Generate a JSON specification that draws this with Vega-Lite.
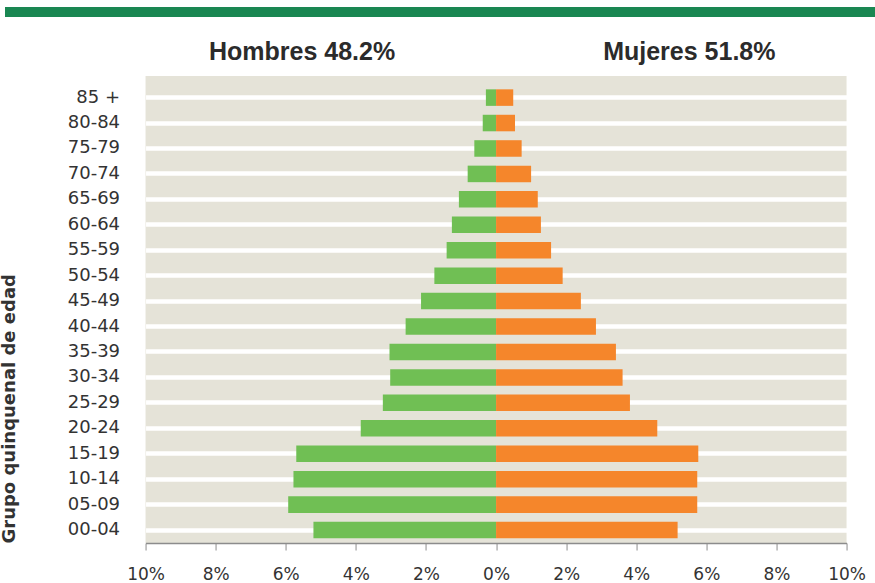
{
  "$schema": "https://vega.github.io/schema/vega-lite/v6.json",
  "padding": {"left": 0, "right": 0, "top": 7, "bottom": 0},
  "background": "#ffffff",
  "spacing": 22,
  "center": true,
  "config": {"view": {"stroke": null}},
  "datasets": {
    "pyramid": [
      {"age": "85 +", "sex": "Hombres", "value": -0.29},
      {"age": "80-84", "sex": "Hombres", "value": -0.38},
      {"age": "75-79", "sex": "Hombres", "value": -0.62},
      {"age": "70-74", "sex": "Hombres", "value": -0.81},
      {"age": "65-69", "sex": "Hombres", "value": -1.06},
      {"age": "60-64", "sex": "Hombres", "value": -1.26},
      {"age": "55-59", "sex": "Hombres", "value": -1.41},
      {"age": "50-54", "sex": "Hombres", "value": -1.76},
      {"age": "45-49", "sex": "Hombres", "value": -2.14},
      {"age": "40-44", "sex": "Hombres", "value": -2.58},
      {"age": "35-39", "sex": "Hombres", "value": -3.04},
      {"age": "30-34", "sex": "Hombres", "value": -3.02},
      {"age": "25-29", "sex": "Hombres", "value": -3.23},
      {"age": "20-24", "sex": "Hombres", "value": -3.86},
      {"age": "15-19", "sex": "Hombres", "value": -5.70},
      {"age": "10-14", "sex": "Hombres", "value": -5.78},
      {"age": "05-09", "sex": "Hombres", "value": -5.93},
      {"age": "00-04", "sex": "Hombres", "value": -5.21},
      {"age": "85 +", "sex": "Mujeres", "value": 0.49},
      {"age": "80-84", "sex": "Mujeres", "value": 0.54},
      {"age": "75-79", "sex": "Mujeres", "value": 0.73},
      {"age": "70-74", "sex": "Mujeres", "value": 1.0},
      {"age": "65-69", "sex": "Mujeres", "value": 1.19},
      {"age": "60-64", "sex": "Mujeres", "value": 1.28},
      {"age": "55-59", "sex": "Mujeres", "value": 1.57},
      {"age": "50-54", "sex": "Mujeres", "value": 1.90},
      {"age": "45-49", "sex": "Mujeres", "value": 2.42},
      {"age": "40-44", "sex": "Mujeres", "value": 2.85},
      {"age": "35-39", "sex": "Mujeres", "value": 3.42},
      {"age": "30-34", "sex": "Mujeres", "value": 3.61},
      {"age": "25-29", "sex": "Mujeres", "value": 3.82},
      {"age": "20-24", "sex": "Mujeres", "value": 4.60},
      {"age": "15-19", "sex": "Mujeres", "value": 5.77},
      {"age": "10-14", "sex": "Mujeres", "value": 5.74},
      {"age": "05-09", "sex": "Mujeres", "value": 5.74},
      {"age": "00-04", "sex": "Mujeres", "value": 5.18}
    ]
  },
  "vconcat": [
    {
      "width": 1001,
      "height": 10,
      "data": {"values": [{"band": "top"}]},
      "mark": {"type": "rect", "color": "#1a8752"},
      "encoding": {}
    },
    {
      "width": 701,
      "height": 467,
      "view": {"fill": "#e5e3d8", "stroke": null},
      "data": {"name": "pyramid"},
      "encoding": {
        "y": {
          "field": "age",
          "type": "nominal",
          "sort": ["85 +", "80-84", "75-79", "70-74", "65-69", "60-64", "55-59", "50-54", "45-49", "40-44", "35-39", "30-34", "25-29", "20-24", "15-19", "10-14", "05-09", "00-04"],
          "scale": {"paddingInner": 0.35, "paddingOuter": 0.354, "align": 0.74},
          "axis": {
            "title": "Grupo quinquenal de edad",
            "titleFont": "DejaVu Sans",
            "titleFontSize": 18,
            "titleFontWeight": "bold",
            "titleColor": "#333333",
            "titleAnchor": "end",
            "titleAlign": "left",
            "titlePadding": 49,
            "labelFont": "DejaVu Sans",
            "labelFontSize": 18,
            "labelColor": "#333333",
            "labelPadding": 26,
            "ticks": false,
            "domain": false,
            "grid": true,
            "gridColor": "#ffffff",
            "gridWidth": 4.5
          }
        }
      },
      "layer": [
        {
          "mark": {"type": "bar"},
          "encoding": {
            "x": {
              "field": "value",
              "type": "quantitative",
              "scale": {"domain": [-10, 10], "nice": false},
              "axis": {
                "orient": "bottom",
                "title": null,
                "values": [-10, -8, -6, -4, -2, 0, 2, 4, 6, 8, 10],
                "labelExpr": "abs(datum.value) + '%'",
                "labelFont": "DejaVu Sans",
                "labelFontSize": 17,
                "labelColor": "#333333",
                "labelPadding": 16,
                "labelFlush": false,
                "tickColor": "#8c8c8c",
                "tickSize": 7,
                "domainColor": "#8c8c8c",
                "domainWidth": 1.5,
                "grid": false
              }
            },
            "color": {
              "field": "sex",
              "type": "nominal",
              "scale": {"domain": ["Hombres", "Mujeres"], "range": ["#70bf54", "#f5862b"]},
              "legend": null
            }
          }
        },
        {
          "mark": {"type": "bar", "opacity": 0},
          "encoding": {
            "x": {
              "field": "value",
              "type": "quantitative",
              "axis": {
                "orient": "top",
                "title": null,
                "values": [-5.55, 5.5],
                "labelExpr": "datum.value < 0 ? 'Hombres 48.2%' : 'Mujeres 51.8%'",
                "labelFont": "Liberation Sans",
                "labelFontSize": 25,
                "labelFontWeight": "bold",
                "labelColor": "#2b2b2b",
                "labelBaseline": "alphabetic",
                "labelPadding": 17,
                "labelLimit": 0,
                "labelFlush": false,
                "ticks": false,
                "domain": false,
                "grid": false,
                "labelOverlap": false
              }
            }
          }
        }
      ],
      "resolve": {"axis": {"x": "independent"}}
    }
  ]
}
